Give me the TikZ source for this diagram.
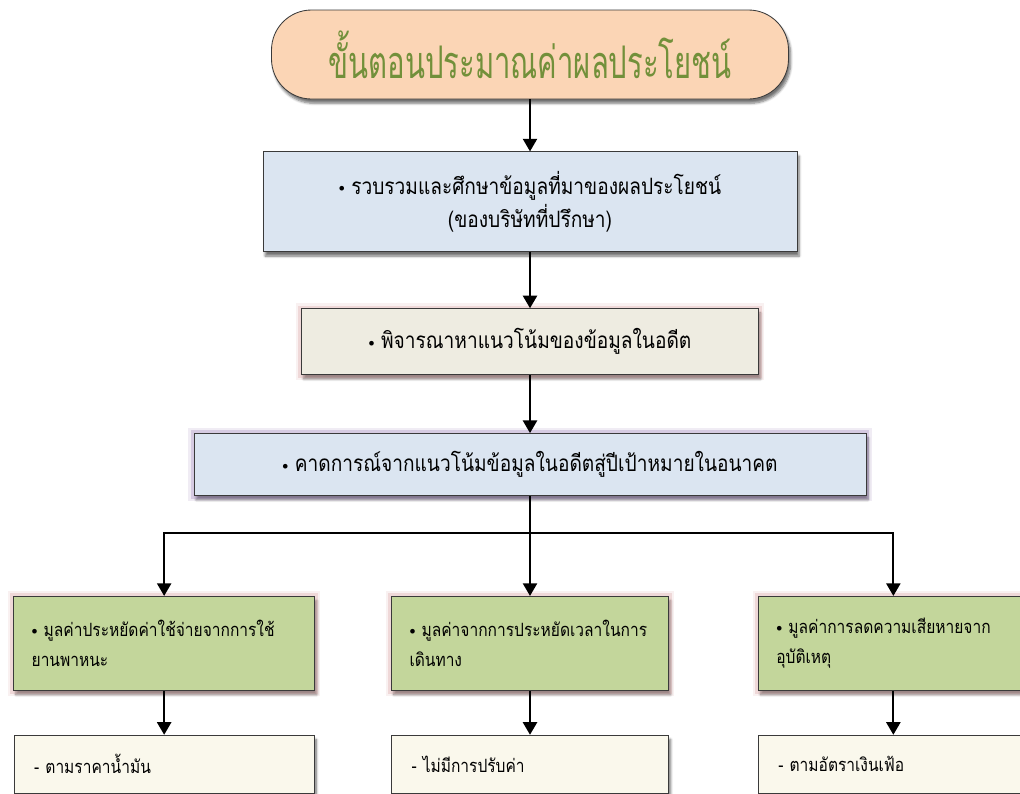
\documentclass[tikz,border=0pt]{standalone}
\usepackage{fontspec}
\newfontfamily\thaifont[Script=Thai,FakeStretch=0.85]{Loma}
\newfontfamily\thaititolo[Script=Thai,FakeStretch=0.65]{Loma}
\usetikzlibrary{positioning}
\usetikzlibrary{arrows.meta}
\usetikzlibrary{shadows.blur}

\definecolor{pesca}{HTML}{FBD5B5}
\definecolor{celeste}{HTML}{DBE5F1}
\definecolor{sabbia}{HTML}{EEECE1}
\definecolor{verdino}{HTML}{C3D69B}
\definecolor{crema}{HTML}{FAF8EC}
\definecolor{oliva}{HTML}{72903A}
\definecolor{bordo}{HTML}{3A3A3A}
\definecolor{rosato}{HTML}{D9A0A0}
\definecolor{lilla}{HTML}{9B7FB8}

\newcommand{\pallino}{\raisebox{0.12em}{\fontsize{8pt}{8pt}\selectfont$\bullet$}~}

\tikzset{
    testo/.style={font=\thaifont\fontsize{16pt}{24pt}\selectfont},
    piccolo/.style={font=\thaifont\fontsize{13pt}{21pt}\selectfont},
    riquadro/.style={testo, draw=bordo, line width=0.6pt, inner sep=0pt,
        blur shadow={shadow xshift=1.5pt, shadow yshift=-3pt,
            shadow blur steps=6, shadow opacity=55}},
    bagliore/.style={preaction={draw=#1, line width=8pt, opacity=0.15},
        preaction={draw=#1, line width=4.5pt, opacity=0.3}},
    voce/.style={riquadro, piccolo, fill=verdino, bagliore=rosato, align=left,
        inner xsep=0.45cm, minimum height=2.35cm},
    nota/.style={riquadro, piccolo, fill=crema, align=left,
        inner xsep=0.5cm, minimum height=1.45cm},
    freccia/.style={line width=1.6pt, -{Triangle[width=10pt,length=9pt]}},
    linea/.style={line width=1.6pt},
}

\begin{document}
\begin{tikzpicture}
    \useasboundingbox (0,0) rectangle (25.5,-19.825);

    % Colonna centrale
    \node[riquadro, fill=pesca, rounded corners=1cm,
          minimum width=12.925cm, minimum height=2.225cm,
          font=\thaititolo\fontsize{32pt}{36pt}\selectfont, text=oliva]
          (titolo) at (13.25,-1.3625) {ขั้นตอนประมาณค่าผลประโยชน์};
    \node[riquadro, fill=celeste, align=center,
          minimum width=13.35cm, minimum height=2.5cm,
          below=1.3cm of titolo] (raccolta)
          {\pallino รวบรวมและศึกษาข้อมูลที่มาของผลประโยชน์\\(ของบริษัทที่ปรึกษา)};
    \node[riquadro, fill=sabbia, bagliore=rosato,
          minimum width=11.425cm, minimum height=1.65cm,
          below=1.4cm of raccolta] (tendenza)
          {\pallino พิจารณาหาแนวโน้มของข้อมูลในอดีต};
    \node[riquadro, fill=celeste, bagliore=lilla,
          minimum width=16.8cm, minimum height=1.55cm,
          below=1.45cm of tendenza] (stima)
          {\pallino คาดการณ์จากแนวโน้มข้อมูลในอดีตสู่ปีเป้าหมายในอนาคต};

    % Tre rami
    \node[voce, text width=6.025cm, below=2.5cm of stima] (v2)
          {\pallino มูลค่าจากการประหยัดเวลาในการ\\เดินทาง};
    \node[voce, text width=6.625cm, left=1.9cm of v2] (v1)
          {\pallino มูลค่าประหยัดค่าใช้จ่ายจากการใช้\\ยานพาหนะ};
    \node[voce, text width=5.85cm, right=2.225cm of v2] (v3)
          {\pallino มูลค่าการลดความเสียหายจาก\\อุบัติเหตุ};

    % Note in fondo
    \node[nota, text width=6.5cm, below=1.1cm of v1] (n1) {- ตามราคาน้ำมัน};
    \node[nota, text width=5.925cm, below=1.1cm of v2] (n2) {- ไม่มีการปรับค่า};
    \node[nota, text width=5.75cm, below=1.1cm of v3] (n3) {- ตามอัตราเงินเฟ้อ};

    % Collegamenti
    \coordinate[below=0.925cm of stima] (bivio);
    \draw[freccia] (titolo) -- (raccolta);
    \draw[freccia] (raccolta) -- (tendenza);
    \draw[freccia] (tendenza) -- (stima);
    \draw[linea] (stima) -- (bivio);
    \draw[freccia] (bivio) -| (v1);
    \draw[freccia] (bivio) -- (v2);
    \draw[freccia] (bivio) -| (v3);
    \draw[freccia] (v1) -- (n1);
    \draw[freccia] (v2) -- (n2);
    \draw[freccia] (v3) -- (n3);
\end{tikzpicture}
\end{document}
